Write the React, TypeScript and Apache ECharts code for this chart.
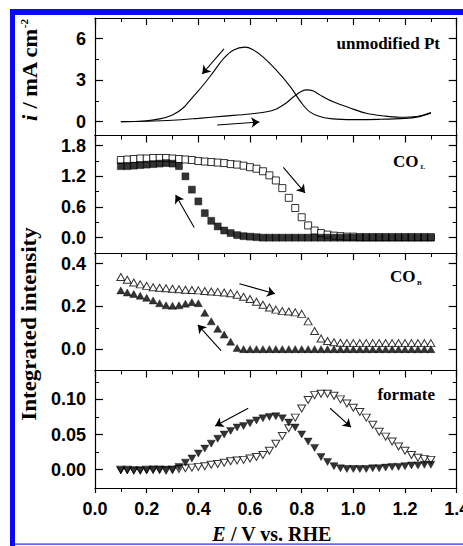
import React, { useEffect, useRef } from "react";
import * as echarts from "echarts";

// ---------- data ----------
const X_TICKS = [0.0, 0.2, 0.4, 0.6, 0.8, 1.0, 1.2, 1.4];

const Y1_TICKS = [0, 3, 6];
const Y1_MINOR = [1.5, 4.5];
const Y2_TICKS = [0.0, 0.6, 1.2, 1.8];
const Y2_MINOR = [0.3, 0.9, 1.5];
const Y3_TICKS = [0.0, 0.2, 0.4];
const Y3_MINOR = [0.1, 0.3];
const Y4_TICKS = [0.0, 0.05, 0.1];
const Y4_MINOR = [0.025, 0.075, 0.125];

// Cyclic voltammogram (unmodified Pt)
const CV_FWD_E = [0.10, 0.20, 0.30, 0.40, 0.50, 0.60, 0.66, 0.70, 0.74, 0.77, 0.80, 0.82, 0.845, 0.87, 0.92, 0.99, 1.05, 1.12, 1.18, 1.245, 1.30];
const CV_FWD_I = [0.00, 0.03, 0.10, 0.24, 0.40, 0.56, 0.70, 0.90, 1.35, 1.82, 2.20, 2.30, 2.22, 1.94, 1.46, 0.97, 0.61, 0.41, 0.32, 0.37, 0.66];
const CV_REV_E = [1.30, 1.25, 1.20, 1.10, 1.00, 0.92, 0.87, 0.83, 0.80, 0.755, 0.70, 0.65, 0.61, 0.58, 0.535, 0.50, 0.46, 0.42, 0.38, 0.34, 0.30, 0.25, 0.19, 0.10];
const CV_REV_I = [0.62, 0.35, 0.24, 0.17, 0.15, 0.20, 0.37, 0.73, 1.34, 2.55, 3.76, 4.69, 5.22, 5.39, 5.17, 4.61, 3.64, 2.67, 1.82, 0.97, 0.49, 0.20, 0.05, 0.00];

// Potential grid of the spectra
const E_GRID = [0.100, 0.125, 0.150, 0.175, 0.200, 0.225, 0.250, 0.275, 0.300, 0.325, 0.350, 0.375, 0.400, 0.425, 0.450, 0.475, 0.500, 0.525, 0.550, 0.575, 0.600, 0.625, 0.650, 0.675, 0.700, 0.725, 0.750, 0.775, 0.800, 0.825, 0.850, 0.875, 0.900, 0.925, 0.950, 0.975, 1.000, 1.025, 1.050, 1.075, 1.100, 1.125, 1.150, 1.175, 1.200, 1.225, 1.250, 1.275, 1.300];

// CO_L (linear CO)
const COL_OPEN = [1.52, 1.53, 1.54, 1.55, 1.55, 1.56, 1.56, 1.56, 1.55, 1.54, 1.53, 1.52, 1.50, 1.49, 1.48, 1.47, 1.46, 1.44, 1.43, 1.41, 1.38, 1.35, 1.30, 1.22, 1.12, 0.97, 0.78, 0.58, 0.40, 0.24, 0.14, 0.09, 0.06, 0.04, 0.03, 0.02, 0.02, 0.01, 0.01, 0.01, 0.01, 0.01, 0.01, 0.01, 0.01, 0.01, 0.01, 0.01, 0.01];
const COL_FILLED = [1.40, 1.40, 1.41, 1.42, 1.43, 1.44, 1.45, 1.46, 1.45, 1.40, 1.20, 0.94, 0.71, 0.48, 0.33, 0.22, 0.14, 0.09, 0.05, 0.03, 0.02, 0.01, 0.00, 0.00, 0.00, 0.00, 0.00, 0.00, 0.00, 0.00, 0.00, 0.00, 0.00, 0.00, 0.00, 0.00, 0.00, 0.00, 0.00, 0.00, 0.00, 0.00, 0.00, 0.00, 0.00, 0.00, 0.00, 0.00, 0.00];

// CO_B (bridge CO)
const COB_OPEN = [0.338, 0.325, 0.312, 0.303, 0.296, 0.290, 0.287, 0.285, 0.283, 0.280, 0.278, 0.277, 0.275, 0.272, 0.270, 0.268, 0.265, 0.262, 0.255, 0.245, 0.235, 0.222, 0.208, 0.195, 0.185, 0.178, 0.176, 0.172, 0.165, 0.130, 0.085, 0.050, 0.038, 0.032, 0.030, 0.028, 0.028, 0.028, 0.028, 0.028, 0.028, 0.028, 0.028, 0.028, 0.028, 0.028, 0.028, 0.028, 0.028];
const COB_FILLED = [0.275, 0.265, 0.258, 0.250, 0.240, 0.228, 0.215, 0.205, 0.203, 0.205, 0.213, 0.220, 0.215, 0.170, 0.130, 0.095, 0.068, 0.035, 0.005, 0.000, 0.000, 0.000, 0.000, 0.000, 0.000, 0.000, 0.000, 0.000, 0.000, 0.000, 0.000, 0.000, 0.000, 0.000, 0.000, 0.000, 0.000, 0.000, 0.000, 0.000, 0.000, 0.000, 0.000, 0.000, 0.000, 0.000, 0.000, 0.000, 0.000];

// formate
const FORM_OPEN = [0.000, 0.000, -0.001, -0.001, 0.000, 0.000, 0.000, -0.001, 0.000, 0.001, 0.002, 0.003, 0.004, 0.005, 0.007, 0.008, 0.010, 0.012, 0.013, 0.014, 0.016, 0.018, 0.021, 0.027, 0.037, 0.048, 0.059, 0.074, 0.087, 0.099, 0.106, 0.108, 0.108, 0.105, 0.100, 0.094, 0.088, 0.082, 0.074, 0.064, 0.054, 0.047, 0.040, 0.033, 0.027, 0.021, 0.017, 0.015, 0.014];
const FORM_FILLED = [-0.001, -0.001, -0.001, -0.001, -0.001, 0.000, 0.000, 0.000, 0.000, 0.004, 0.010, 0.016, 0.023, 0.030, 0.037, 0.044, 0.050, 0.055, 0.060, 0.062, 0.066, 0.070, 0.073, 0.075, 0.076, 0.073, 0.067, 0.060, 0.050, 0.040, 0.031, 0.018, 0.011, 0.005, 0.002, 0.001, 0.001, 0.001, 0.001, 0.002, 0.002, 0.003, 0.004, 0.004, 0.005, 0.006, 0.006, 0.007, 0.007];

// annotation arrows, [from E, from y, to E, to y] in data units
const ARROWS_1 = [[0.499, 5.27, 0.415, 3.45], [0.473, -0.24, 0.636, -0.02]];
const ARROWS_2 = [[0.729, 1.376, 0.813, 0.875], [0.384, 0.2, 0.312, 0.836]];
const ARROWS_3 = [[0.559, 0.306, 0.697, 0.259], [0.488, -0.007, 0.398, 0.114]];
const ARROWS_4 = [[0.593, 0.0873, 0.465, 0.0622], [0.91, 0.0873, 0.991, 0.0604]];

export default function App() {
  const ref = useRef<HTMLDivElement>(null);

  useEffect(() => {
    const chart = echarts.init(ref.current as HTMLDivElement, null, { renderer: "svg" });

    const SANS = "'Liberation Sans', Arial, sans-serif";
    const SERIF = "'Liberation Serif', 'Times New Roman', serif";
    const BLACK = "#000";
    const LEFT = 95;
    const RIGHT = 6.3;
    const TOPS = [18, 135.5, 253, 370.5];
    const H = 117.5;

    const panels = [
      { min: -1, max: 7.5, major: Y1_TICKS, minor: Y1_MINOR, dec: 0 },
      { min: -0.3, max: 2.0, major: Y2_TICKS, minor: Y2_MINOR, dec: 1 },
      { min: -0.1, max: 0.45, major: Y3_TICKS, minor: Y3_MINOR, dec: 1 },
      { min: -0.026, max: 0.141, major: Y4_TICKS, minor: Y4_MINOR, dec: 2 },
    ];

    const grid = TOPS.map((t) => ({
      left: LEFT,
      right: RIGHT,
      top: t,
      height: H,
      containLabel: false,
      outerBoundsMode: "none",
    }));

    const lineStyle = { color: BLACK, width: 1.2 };
    const xAxis: any[] = [];
    const yAxis: any[] = [];

    panels.forEach((p, i) => {
      // top axis with inward ticks
      xAxis.push({
        type: "value",
        gridIndex: i,
        position: "top",
        min: 0,
        max: 1.4,
        interval: 0.2,
        axisLine: { show: true, onZero: false, lineStyle },
        axisTick: { show: true, inside: true, length: 7, lineStyle },
        minorTick: { show: true, splitNumber: 2, length: 4, lineStyle: { color: BLACK, width: 1 } },
        axisLabel: { show: false },
        splitLine: { show: false },
      });
      const isLast = i === panels.length - 1;
      xAxis.push({
        type: "value",
        gridIndex: i,
        position: "bottom",
        min: 0,
        max: 1.4,
        interval: 0.2,
        axisLine: { show: true, onZero: false, lineStyle },
        axisTick: { show: isLast, inside: false, length: 5, lineStyle },
        minorTick: { show: isLast, splitNumber: 2, length: 4, lineStyle: { color: BLACK, width: 1 } },
        axisLabel: {
          show: isLast,
          customValues: X_TICKS,
          formatter: (v: number) => v.toFixed(1),
          fontFamily: SANS,
          fontWeight: "bold",
          fontSize: 18,
          color: BLACK,
          margin: 12,
          showMinLabel: true,
          showMaxLabel: true,
          hideOverlap: false,
        },
        splitLine: { show: false },
      });
      // left major
      yAxis.push({
        type: "value",
        gridIndex: i,
        position: "left",
        min: p.min,
        max: p.max,
        axisLine: { show: true, onZero: false, lineStyle },
        axisTick: { show: true, inside: true, length: 8, customValues: p.major, lineStyle },
        axisLabel: {
          show: true,
          customValues: p.major,
          formatter: (v: number) => v.toFixed(p.dec),
          fontFamily: SANS,
          fontWeight: "bold",
          fontSize: 18,
          color: BLACK,
          margin: 9,
        },
        splitLine: { show: false },
      });
      // left minor
      yAxis.push({
        type: "value",
        gridIndex: i,
        position: "left",
        min: p.min,
        max: p.max,
        axisLine: { show: false, onZero: false },
        axisTick: { show: true, inside: true, length: 4, customValues: p.minor, lineStyle: { color: BLACK, width: 1 } },
        axisLabel: { show: false },
        splitLine: { show: false },
      });
      // right major
      yAxis.push({
        type: "value",
        gridIndex: i,
        position: "right",
        min: p.min,
        max: p.max,
        axisLine: { show: true, onZero: false, lineStyle },
        axisTick: { show: true, inside: true, length: 8, customValues: p.major, lineStyle },
        axisLabel: { show: false },
        splitLine: { show: false },
      });
      // right minor
      yAxis.push({
        type: "value",
        gridIndex: i,
        position: "right",
        min: p.min,
        max: p.max,
        axisLine: { show: false, onZero: false },
        axisTick: { show: true, inside: true, length: 4, customValues: p.minor, lineStyle: { color: BLACK, width: 1 } },
        axisLabel: { show: false },
        splitLine: { show: false },
      });
    });

    const arrowMark = (arrows: number[][]) => ({
      silent: true,
      symbol: ["none", "arrow"],
      symbolSize: 8,
      lineStyle: { color: BLACK, width: 1.1, type: "solid" },
      label: { show: false },
      emphasis: { disabled: true },
      data: arrows.map((a) => [{ coord: [a[0], a[1]] }, { coord: [a[2], a[3]] }]),
    });

    const pairs = (xs: number[], ys: number[]) => xs.map((x, k) => [x, ys[k]]);

    const openStyle = { color: "#fff", borderColor: BLACK, borderWidth: 1 };
    const filledStyle = { color: BLACK, borderColor: BLACK, borderWidth: 0.5 };

    const series: any[] = [
      {
        type: "line",
        xAxisIndex: 0,
        yAxisIndex: 0,
        data: pairs(CV_FWD_E, CV_FWD_I),
        smooth: 0.35,
        showSymbol: false,
        lineStyle: { color: BLACK, width: 1.1 },
        markLine: arrowMark(ARROWS_1),
      },
      {
        type: "line",
        xAxisIndex: 0,
        yAxisIndex: 0,
        data: pairs(CV_REV_E, CV_REV_I),
        smooth: 0.35,
        showSymbol: false,
        lineStyle: { color: BLACK, width: 1.1 },
      },
      {
        type: "scatter",
        xAxisIndex: 2,
        yAxisIndex: 4,
        symbol: "rect",
        symbolSize: 7,
        itemStyle: openStyle,
        data: pairs(E_GRID, COL_OPEN),
        markLine: arrowMark(ARROWS_2),
      },
      {
        type: "scatter",
        xAxisIndex: 2,
        yAxisIndex: 4,
        symbol: "rect",
        symbolSize: 7,
        itemStyle: filledStyle,
        data: pairs(E_GRID, COL_FILLED),
      },
      {
        type: "scatter",
        xAxisIndex: 4,
        yAxisIndex: 8,
        symbol: "triangle",
        symbolSize: [8, 7],
        itemStyle: openStyle,
        data: pairs(E_GRID, COB_OPEN),
        markLine: arrowMark(ARROWS_3),
      },
      {
        type: "scatter",
        xAxisIndex: 4,
        yAxisIndex: 8,
        symbol: "triangle",
        symbolSize: [8, 7],
        itemStyle: filledStyle,
        data: pairs(E_GRID, COB_FILLED),
      },
      {
        type: "scatter",
        xAxisIndex: 6,
        yAxisIndex: 12,
        symbol: "triangle",
        symbolRotate: 180,
        symbolSize: [8, 7],
        itemStyle: openStyle,
        data: pairs(E_GRID, FORM_OPEN),
        markLine: arrowMark(ARROWS_4),
      },
      {
        type: "scatter",
        xAxisIndex: 6,
        yAxisIndex: 12,
        symbol: "triangle",
        symbolRotate: 180,
        symbolSize: [8, 7],
        itemStyle: filledStyle,
        data: pairs(E_GRID, FORM_FILLED),
      },
    ];

    const labelText = (text: string, x: number, y: number, size: number, align: string) => ({
      type: "text",
      x,
      y,
      silent: true,
      style: {
        text,
        fill: BLACK,
        font: `bold ${size}px ${SERIF}`,
        align,
        verticalAlign: "middle",
      },
    });

    const graphic: any[] = [
      // blue frame
      { type: "rect", silent: true, shape: { x: 10, y: 9, width: 453, height: 6 }, style: { fill: "#0a0af2" } },
      { type: "rect", silent: true, shape: { x: 10, y: 9, width: 5, height: 537 }, style: { fill: "#0a0af2" } },
      // panel labels
      labelText("unmodified Pt", 440, 43.5, 17, "right"),
      labelText("CO", 393, 161.6, 17, "left"),
      labelText("L", 420.5, 167, 7, "left"),
      labelText("CO", 390, 276, 17, "left"),
      labelText("B", 417, 283, 7, "left"),
      labelText("formate", 435, 394.3, 17, "right"),
      // y axis titles
      {
        type: "text",
        x: 30,
        y: 70,
        rotation: Math.PI / 2,
        scaleX: 1.12,
        silent: true,
        style: {
          text: "{i|i}{n| / mA cm}{s|-2}",
          align: "center",
          verticalAlign: "middle",
          fill: BLACK,
          rich: {
            i: { fontFamily: SERIF, fontWeight: "bold", fontStyle: "italic", fontSize: 20, fill: BLACK },
            n: { fontFamily: SERIF, fontWeight: "bold", fontSize: 20, fill: BLACK },
            s: { fontFamily: SERIF, fontWeight: "bold", fontSize: 10, fill: BLACK, verticalAlign: "top" },
          },
        },
      },
      {
        type: "text",
        x: 30,
        y: 324,
        rotation: Math.PI / 2,
        scaleX: 1.15,
        silent: true,
        style: {
          text: "Integrated intensity",
          align: "center",
          verticalAlign: "middle",
          fill: BLACK,
          font: `bold 20px ${SERIF}`,
        },
      },
      // x axis title
      {
        type: "text",
        x: 272,
        y: 534,
        silent: true,
        style: {
          text: "{e|E}{n| / V vs. RHE}",
          align: "center",
          verticalAlign: "middle",
          fill: BLACK,
          rich: {
            e: { fontFamily: SERIF, fontWeight: "bold", fontStyle: "italic", fontSize: 20, fill: BLACK },
            n: { fontFamily: SERIF, fontWeight: "bold", fontSize: 20, fill: BLACK },
          },
        },
      },
      // bottom thin blue line
      { type: "rect", silent: true, z: 100, shape: { x: 15, y: 543.3, width: 448, height: 1.6 }, style: { fill: "#6a6af0" } },
    ];

    chart.setOption({
      animation: false,
      backgroundColor: "#fff",
      grid,
      xAxis,
      yAxis,
      series,
      graphic,
    });

    return () => chart.dispose();
  }, []);

  return (
    <div
      ref={ref}
      style={{ position: "fixed", left: 0, top: 0, width: 463, height: 546, background: "#fff" }}
    />
  );
}
